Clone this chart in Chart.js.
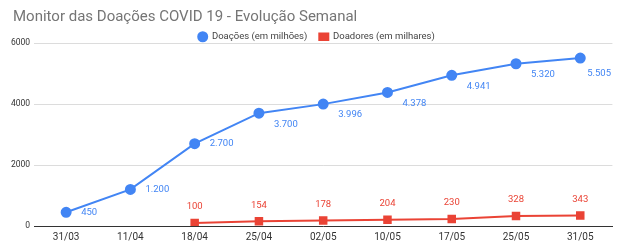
<!DOCTYPE html>
<html>
<head>
<meta charset="utf-8">
<script src="https://cdn.jsdelivr.net/npm/chart.js@4"></script>
<style>
  html, body { margin: 0; padding: 0; background: #fff; }
  #wrap { width: 619px; height: 251px; }
</style>
</head>
<body>
<div id="wrap"><canvas id="chart" width="619" height="251"></canvas></div>
<script>
var weeks = ['31/03', '11/04', '18/04', '25/04', '02/05', '10/05', '17/05', '25/05', '31/05'];
var doacoes = [450, 1200, 2700, 3700, 3996, 4378, 4941, 5320, 5505];
var doadores = [null, null, 100, 154, 178, 204, 230, 328, 343];
var yTicks = [0, 2000, 4000, 6000];

var BLUE = '#4285F4';
var RED = '#EA4335';

function fmt(v) {
    return String(v).replace(/\B(?=(\d{3})+(?!\d))/g, '.');
}

// draws the value labels next to each point
var valueLabels = {
    id: 'valueLabels',
    afterDatasetsDraw: function (chart) {
        var ctx = chart.ctx;
        ctx.save();
        ctx.font = '9.5px Roboto';
        ctx.textBaseline = 'middle';
        chart.data.datasets.forEach(function (ds, di) {
            var meta = chart.getDatasetMeta(di);
            meta.data.forEach(function (pt, i) {
                var v = ds.data[i];
                if (v === null || v === undefined) return;
                var txt = fmt(v);
                ctx.fillStyle = ds.borderColor;
                if (ds.labelPos === 'above') {
                    ctx.textAlign = 'center';
                    ctx.fillText(txt, pt.x, pt.y - 16);
                } else {
                    var w = ctx.measureText(txt).width;
                    var x = pt.x + 15;
                    var next = ds.data[i + 1];
                    var dy = (next !== undefined && next - v > 700) ? 0 : 11;
                    if (x + w > chart.width - 8) {
                        x = chart.width - 8 - w;
                        dy = 16;
                    }
                    ctx.textAlign = 'left';
                    ctx.fillText(txt, x, pt.y + dy);
                }
            });
        });
        ctx.restore();
    }
};

// fixed legend height, legend nudged right, indented title
var layoutTweaks = {
    id: 'layoutTweaks',
    beforeLayout: function (chart) {
        var lg = chart.legend;
        if (lg && !lg._tight) {
            var fit = lg.fit;
            lg.fit = function () {
                fit.call(this);
                this.height = 23;
            };
            lg._tight = true;
        }
    },
    afterLayout: function (chart) {
        if (chart.titleBlock) {
            chart.titleBlock.left += 13;
        }
        if (chart.legend) {
            chart.legend.left += 9;
            chart.legend.right += 9;
        }
    }
};

new Chart(document.getElementById('chart').getContext('2d'), {
    type: 'line',
    data: {
        labels: weeks,
        datasets: [{
            label: 'Doações (em milhões)',
            data: doacoes,
            borderColor: BLUE,
            backgroundColor: BLUE,
            borderWidth: 2,
            pointStyle: 'circle',
            pointRadius: 4.5,
            pointHoverRadius: 4.5,
            labelPos: 'right'
        }, {
            label: 'Doadores (em milhares)',
            data: doadores,
            borderColor: RED,
            backgroundColor: RED,
            borderWidth: 2,
            pointStyle: 'rect',
            pointRadius: 4.6,
            pointHoverRadius: 4.6,
            labelPos: 'above'
        }]
    },
    options: {
        responsive: false,
        animation: false,
        layout: { padding: { left: 0, right: 4, top: 0, bottom: 3 } },
        plugins: {
            title: {
                display: true,
                text: 'Monitor das Doações COVID 19 - Evolução Semanal',
                align: 'start',
                color: '#757575',
                font: { family: 'Roboto', size: 15, weight: 'normal' },
                padding: { top: 8, bottom: -6 }
            },
            legend: {
                display: true,
                labels: {
                    usePointStyle: true,
                    pointStyleWidth: 9,
                    boxHeight: 6.5,
                    padding: 12,
                    color: '#444',
                    font: { family: 'Roboto', size: 9.5 }
                }
            },
            tooltip: { enabled: false }
        },
        scales: {
            x: {
                offset: true,
                grid: { display: false, drawTicks: false },
                border: { display: true, color: '#333', width: 1 },
                ticks: {
                    color: '#333',
                    padding: 5,
                    font: { family: 'Roboto', size: 10 },
                    maxRotation: 0
                }
            },
            y: {
                min: 0,
                max: 6000,
                afterFit: function (scale) { scale.width = 34; },
                afterBuildTicks: function (scale) {
                    scale.ticks = yTicks.map(function (v) { return { value: v }; });
                },
                grid: { color: '#dcdcdc', drawTicks: false },
                border: { display: false },
                ticks: {
                    color: '#333',
                    padding: 4,
                    font: { family: 'Roboto', size: 8.5 },
                    callback: function (v) { return String(v); }
                }
            }
        }
    },
    plugins: [valueLabels, layoutTweaks]
});
</script>
</body>
</html>
